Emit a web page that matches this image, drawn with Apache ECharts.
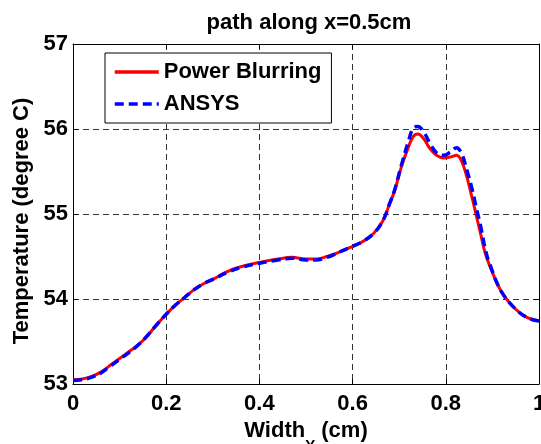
<!DOCTYPE html>
<html>
<head>
<meta charset="utf-8">
<script src="https://cdn.jsdelivr.net/npm/echarts@6/dist/echarts.min.js"></script>
<style>html,body{margin:0;padding:0;background:#fff;}#c{width:541px;height:444px;}</style>
</head>
<body>
<div id="c"></div>
<script>
var xs = [0, 0.02, 0.04, 0.06, 0.08, 0.10, 0.12, 0.14, 0.16, 0.18, 0.20, 0.22, 0.24, 0.26, 0.28, 0.30, 0.33, 0.36, 0.40, 0.44, 0.47, 0.50, 0.52, 0.545, 0.575, 0.60, 0.62, 0.645, 0.665, 0.68, 0.69, 0.705, 0.72, 0.73, 0.74, 0.752, 0.766, 0.78, 0.795, 0.81, 0.823, 0.834, 0.845, 0.856, 0.866, 0.875, 0.885, 0.895, 0.92, 0.95, 0.975, 1.0];
var powerBlurring = [53.05, 53.06, 53.09, 53.14, 53.22, 53.30, 53.38, 53.46, 53.57, 53.70, 53.82, 53.93, 54.02, 54.11, 54.18, 54.23, 54.32, 54.38, 54.43, 54.47, 54.49, 54.47, 54.47, 54.50, 54.56, 54.62, 54.67, 54.77, 54.92, 55.13, 55.27, 55.56, 55.79, 55.91, 55.94, 55.89, 55.77, 55.69, 55.66, 55.67, 55.69, 55.62, 55.44, 55.20, 54.97, 54.76, 54.53, 54.38, 54.08, 53.88, 53.78, 53.74];
var ansys = [53.04, 53.05, 53.08, 53.13, 53.21, 53.29, 53.37, 53.46, 53.57, 53.70, 53.82, 53.93, 54.02, 54.11, 54.18, 54.23, 54.31, 54.37, 54.42, 54.46, 54.48, 54.46, 54.46, 54.49, 54.56, 54.62, 54.67, 54.77, 54.92, 55.13, 55.28, 55.58, 55.86, 56.01, 56.03, 55.97, 55.83, 55.72, 55.69, 55.73, 55.78, 55.71, 55.52, 55.30, 55.06, 54.85, 54.58, 54.40, 54.08, 53.88, 53.78, 53.74];
var titleText = 'path along x=0.5cm';
var seriesNames = ['Power Blurring', 'ANSYS'];
var xTicks = {min: 0, max: 1, interval: 0.2};
var yTicks = {min: 53, max: 57, interval: 1};

var FONT = "'Liberation Sans', Arial, sans-serif";
function pairs(v) { return xs.map(function (x, i) { return [x, v[i]]; }); }

var chart = echarts.init(document.getElementById('c'), null, {renderer: 'canvas'});
var gridLine = {show: true, lineStyle: {color: '#333', width: 1, type: [6, 4]}};
var axLine = {show: true, onZero: false, lineStyle: {color: '#000', width: 1}};
var axTick = {show: true, inside: true, length: 5, lineStyle: {color: '#000', width: 1}};
var tickLabel = {color: '#000', fontFamily: FONT, fontWeight: 'bold', fontSize: 22};

chart.setOption({
  animation: false,
  backgroundColor: '#fff',
  title: {
    text: titleText, left: 304, top: 7, textAlign: 'center',
    textStyle: {fontFamily: FONT, fontWeight: 'bold', fontSize: 22, color: '#000'}
  },
  grid: {left: 73, right: 2, top: 44, bottom: 60, containLabel: false, outerBoundsMode: 'none'},
  legend: {
    orient: 'vertical', left: 105, top: 53,
    borderColor: '#000', borderWidth: 1, backgroundColor: '#fff',
    padding: [8, 10, 8, 8], itemWidth: 44, itemHeight: 14, itemGap: 10,
    itemStyle: {color: 'rgba(0,0,0,0)', borderColor: 'rgba(0,0,0,0)', borderWidth: 0, opacity: 0},
    lineStyle: {width: 3.5},
    textStyle: {fontFamily: FONT, fontWeight: 'bold', fontSize: 22, color: '#000', lineHeight: 21},
    data: seriesNames
  },
  xAxis: [{
    type: 'value', position: 'bottom', min: xTicks.min, max: xTicks.max, interval: xTicks.interval,
    axisLine: axLine, axisTick: axTick, splitLine: gridLine,
    axisLabel: Object.assign({margin: 9}, tickLabel),
    name: '{a|Width}{b|Y}{a| (cm)}', nameLocation: 'middle', nameGap: 30,
    nameTextStyle: {
      rich: {
        a: {fontFamily: FONT, fontWeight: 'bold', fontSize: 22, color: '#000', lineHeight: 22, verticalAlign: 'top'},
        b: {fontFamily: FONT, fontWeight: 'bold', fontSize: 15, color: '#000', lineHeight: 33, verticalAlign: 'bottom'}
      }
    }
  }, {
    type: 'value', position: 'top', min: xTicks.min, max: xTicks.max, interval: xTicks.interval,
    axisLine: axLine, axisTick: axTick, axisLabel: {show: false}, splitLine: {show: false}
  }],
  yAxis: [{
    type: 'value', position: 'left', min: yTicks.min, max: yTicks.max, interval: yTicks.interval,
    axisLine: axLine, axisTick: axTick, splitLine: gridLine,
    axisLabel: Object.assign({margin: 5}, tickLabel),
    name: 'Temperature (degree C)', nameLocation: 'middle', nameGap: 40,
    nameTextStyle: {fontFamily: FONT, fontWeight: 'bold', fontSize: 22, color: '#000', padding: [0, 14, 0, 0]}
  }, {
    type: 'value', position: 'right', min: yTicks.min, max: yTicks.max, interval: yTicks.interval,
    axisLine: axLine, axisTick: axTick, axisLabel: {show: false}, splitLine: {show: false}
  }],
  series: [{
    name: seriesNames[0], type: 'line', data: pairs(powerBlurring), symbol: 'none', showSymbol: false,
    smooth: 0.4, z: 3,
    lineStyle: {color: '#ff0000', width: 3}, itemStyle: {color: '#ff0000'}
  }, {
    name: seriesNames[1], type: 'line', data: pairs(ansys), symbol: 'none', showSymbol: false,
    smooth: 0.4, z: 4,
    lineStyle: {color: '#0000ff', width: 3.5, type: [9, 5]}, itemStyle: {color: '#0000ff'}
  }]
});
</script>
</body>
</html>
